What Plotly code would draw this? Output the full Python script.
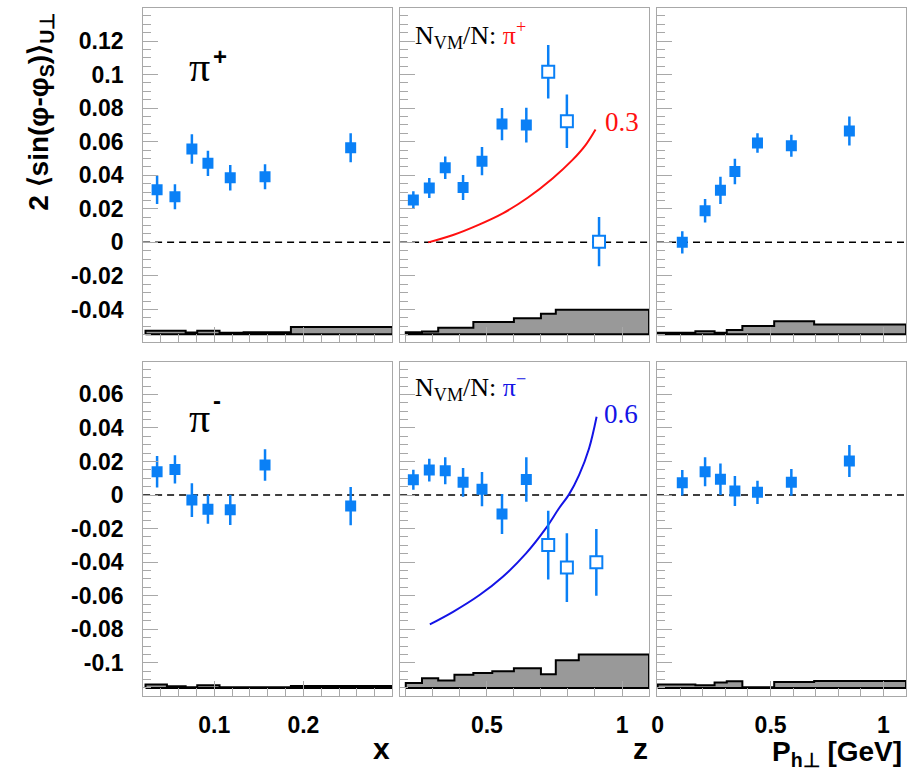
import plotly.graph_objects as go

# ---------------- data ----------------
# kinematic bin centres
x_bin = [0.036, 0.056, 0.075, 0.093, 0.118, 0.157, 0.253]
z_bin_pip = [0.228, 0.287, 0.346, 0.412, 0.482, 0.556, 0.646, 0.727, 0.796, 0.915]
z_bin_pim = [0.228, 0.287, 0.346, 0.412, 0.482, 0.556, 0.646, 0.727, 0.796, 0.905]
pt_bin = [0.109, 0.210, 0.278, 0.342, 0.442, 0.592, 0.849]
n_closed_z = 7  # the last z bins are drawn with open markers

# pi+ amplitudes and statistical errors
pip_x = [0.0314, 0.0272, 0.0556, 0.0471, 0.0385, 0.0391, 0.0564]
pip_x_err = [0.0085, 0.0075, 0.0088, 0.0075, 0.0076, 0.0074, 0.0087]
pip_z = [0.0252, 0.0324, 0.0445, 0.0327, 0.0484, 0.0705, 0.0699, 0.1017, 0.0722, 0.0004]
pip_z_err = [0.0052, 0.0060, 0.0067, 0.0075, 0.0084, 0.0096, 0.0104, 0.0159, 0.0159, 0.0147]
pip_pt = [0.0000, 0.0189, 0.0310, 0.0423, 0.0592, 0.0576, 0.0664]
pip_pt_err = [0.0066, 0.0070, 0.0081, 0.0076, 0.0058, 0.0066, 0.0086]

# pi- amplitudes and statistical errors
pim_x = [0.0139, 0.0153, -0.0030, -0.0084, -0.0088, 0.0179, -0.0066]
pim_x_err = [0.0094, 0.0084, 0.0101, 0.0087, 0.0090, 0.0094, 0.0114]
pim_z = [0.0091, 0.0149, 0.0145, 0.0076, 0.0035, -0.0113, 0.0093, -0.0298, -0.0432, -0.0401]
pim_z_err = [0.0060, 0.0068, 0.0080, 0.0086, 0.0102, 0.0119, 0.0133, 0.0205, 0.0205, 0.0199]
pim_pt = [0.0074, 0.0139, 0.0094, 0.0024, 0.0016, 0.0076, 0.0203]
pim_pt_err = [0.0076, 0.0086, 0.0094, 0.0090, 0.0070, 0.0080, 0.0096]

# systematic uncertainty bands (bin edges and band heights)
x_edges = [0.023, 0.047, 0.068, 0.081, 0.106, 0.133, 0.186, 0.30]
z_edges = [0.20, 0.26, 0.32, 0.38, 0.45, 0.52, 0.60, 0.70, 0.755, 0.84, 1.10]
pt_edges = [0.0, 0.167, 0.252, 0.306, 0.375, 0.516, 0.693, 1.10]
sys_pip_x = [0.0020, 0.0020, 0.0010, 0.0020, 0.0008, 0.0012, 0.0042]
sys_pim_x = [0.0020, 0.0010, 0.0004, 0.0016, 0.0004, 0.0004, 0.0012]
sys_pip_z = [0.0012, 0.0016, 0.0038, 0.0038, 0.0072, 0.0072, 0.0095, 0.0121, 0.0145, 0.0145]
sys_pim_z = [0.0030, 0.0058, 0.0044, 0.0078, 0.0089, 0.0099, 0.0117, 0.0081, 0.0165, 0.0199]
sys_pip_pt = [0.0008, 0.0018, 0.0008, 0.0024, 0.0048, 0.0077, 0.0058]
sys_pim_pt = [0.0020, 0.0016, 0.0032, 0.0040, 0.0004, 0.0036, 0.0042]
sys_base_pip = -0.0547
sys_base_pim = -0.115

# vector-meson fraction N_VM/N, drawn on the asymmetry scale
vm_pip_z = [0.283, 0.375, 0.467, 0.559, 0.651, 0.743, 0.816, 0.865, 0.902]
vm_pip_y = [0.0, 0.0044, 0.0103, 0.0173, 0.0266, 0.0381, 0.0490, 0.0580, 0.0673]
vm_pim_z = [0.289, 0.375, 0.473, 0.559, 0.645, 0.718, 0.767, 0.804, 0.841, 0.878, 0.906]
vm_pim_y = [-0.0771, -0.0696, -0.0596, -0.0487, -0.0348, -0.0199, -0.0079, 0.0004, 0.0119, 0.0278, 0.0467]
vm_pip_end = "0.3"
vm_pim_end = "0.6"

# axis ticks
y_top_ticks = [-0.04, -0.02, 0, 0.02, 0.04, 0.06, 0.08, 0.1, 0.12]
y_top_text = ["-0.04", "-0.02", "0", "0.02", "0.04", "0.06", "0.08", "0.1", "0.12"]
y_bot_ticks = [-0.1, -0.08, -0.06, -0.04, -0.02, 0, 0.02, 0.04, 0.06]
y_bot_text = ["-0.1", "-0.08", "-0.06", "-0.04", "-0.02", "0", "0.02", "0.04", "0.06"]
x_ticks = [0.1, 0.2]
x_text = ["0.1", "0.2"]
z_ticks = [0.5, 1.0]
z_text = ["0.5", "1"]
pt_ticks = [0.0, 0.5, 1.0]
pt_text = ["0", "0.5", "1"]

# ---------------- style ----------------
W, H = 914, 772
BLUE = "#0a80f6"
FRAME = "#a8a8a8"
SANS = "Liberation Sans"
SERIF = "Liberation Serif"


def px(x):
    return x / W


def py(y):
    return 1 - y / H


col_dom = [(px(138), px(388.7)), (px(396.7), px(647.3)), (px(655.3), px(906))]
row_dom = [(py(341.7), py(8.3)), (py(696), py(361.7))]
x_ranges = [[0.0203, 0.2995], [0.179, 1.1], [-0.003, 1.1]]
y_ranges = [[-0.0592, 0.1395], [-0.1198, 0.0795]]

fig = go.Figure()


def ax_name(k, letter):
    return letter if k == 1 else f"{letter}{k}"


def add_points(k, xs, ys, errs, n_closed=None):
    n = len(xs) if n_closed is None else n_closed
    err_style = dict(type="data", visible=True, color=BLUE, thickness=2.5, width=0)
    fig.add_trace(go.Scatter(
        x=xs[:n], y=ys[:n], mode="markers",
        error_y=dict(array=errs[:n], **err_style),
        marker=dict(symbol="square", size=11, color=BLUE, line=dict(width=0)),
        xaxis=ax_name(k, "x"), yaxis=ax_name(k, "y"), showlegend=False))
    if n < len(xs):
        fig.add_trace(go.Scatter(
            x=xs[n:], y=ys[n:], mode="markers",
            error_y=dict(array=errs[n:], **err_style),
            marker=dict(symbol="square", size=12, color="white",
                        line=dict(width=2, color=BLUE)),
            xaxis=ax_name(k, "x"), yaxis=ax_name(k, "y"), showlegend=False))


def add_band(k, edges, heights, base):
    xs, ys = [edges[0]], [base]
    for i, h in enumerate(heights):
        xs.append(edges[i])
        ys.append(base + h)
    xs += [edges[-1], edges[-1], edges[0]]
    ys += [base + heights[-1], base, base]
    fig.add_trace(go.Scatter(
        x=xs, y=ys, mode="lines", line=dict(color="black", width=2, shape="hv"),
        fill="toself", fillcolor="#999999",
        xaxis=ax_name(k, "x"), yaxis=ax_name(k, "y"), showlegend=False))


# bands first so points sit on top
add_band(1, x_edges, sys_pip_x, sys_base_pip)
add_band(2, z_edges, sys_pip_z, sys_base_pip)
add_band(3, pt_edges, sys_pip_pt, sys_base_pip)
add_band(4, x_edges, sys_pim_x, sys_base_pim)
add_band(5, z_edges, sys_pim_z, sys_base_pim)
add_band(6, pt_edges, sys_pim_pt, sys_base_pim)

fig.add_trace(go.Scatter(x=vm_pip_z, y=vm_pip_y, mode="lines",
                         line=dict(color="#ff1010", width=2, shape="spline", smoothing=1),
                         xaxis="x2", yaxis="y2", showlegend=False))
fig.add_trace(go.Scatter(x=vm_pim_z, y=vm_pim_y, mode="lines",
                         line=dict(color="#1414e6", width=2, shape="spline", smoothing=1),
                         xaxis="x5", yaxis="y5", showlegend=False))

add_points(1, x_bin, pip_x, pip_x_err)
add_points(2, z_bin_pip, pip_z, pip_z_err, n_closed_z)
add_points(3, pt_bin, pip_pt, pip_pt_err)
add_points(4, x_bin, pim_x, pim_x_err)
add_points(5, z_bin_pim, pim_z, pim_z_err, n_closed_z)
add_points(6, pt_bin, pim_pt, pim_pt_err)

tick_font = dict(family=SANS, size=23, color="black", weight="bold")
x_tick_sets = [(x_ticks, x_text, 0.02), (z_ticks, z_text, 0.1), (pt_ticks, pt_text, 0.1)]
y_tick_sets = [(y_top_ticks, y_top_text), (y_bot_ticks, y_bot_text)]

layout_axes = {}
shapes = []
for r in range(2):
    for c in range(3):
        k = r * 3 + c + 1
        tv, tt, mdt = x_tick_sets[c]
        layout_axes["xaxis" if k == 1 else f"xaxis{k}"] = dict(
            domain=list(col_dom[c]), anchor=ax_name(k, "y"), range=x_ranges[c],
            tickmode="array", tickvals=tv, ticktext=tt,
            showticklabels=(r == 1), tickfont=tick_font, ticklabelstandoff=8,
            ticks="inside", ticklen=15, tickwidth=1, tickcolor=FRAME,
            minor=dict(dtick=mdt, tick0=0, ticks="inside", ticklen=8,
                       tickwidth=1, tickcolor=FRAME),
            showline=True, mirror=True, linecolor=FRAME, linewidth=1,
            showgrid=False, zeroline=False, fixedrange=True)
        ytv, ytt = y_tick_sets[r]
        layout_axes["yaxis" if k == 1 else f"yaxis{k}"] = dict(
            domain=list(row_dom[r]), anchor=ax_name(k, "x"), range=y_ranges[r],
            tickmode="array", tickvals=ytv, ticktext=ytt,
            showticklabels=(c == 0), tickfont=tick_font, ticklabelstandoff=14,
            ticks="inside", ticklen=15, tickwidth=1, tickcolor=FRAME,
            minor=dict(dtick=0.005, tick0=0, ticks="inside", ticklen=8,
                       tickwidth=1, tickcolor=FRAME),
            showline=True, mirror=True, linecolor=FRAME, linewidth=1,
            showgrid=False, zeroline=False, fixedrange=True)
        shapes.append(dict(type="line", xref=f"{ax_name(k, 'x')} domain",
                           yref=ax_name(k, "y"), x0=0, x1=1, y0=0, y1=0,
                           line=dict(color="black", width=1.5, dash="7px,5px"),
                           layer="below"))

annotations = [
    # y-axis title
    dict(text="<b>2 ⟨sin(φ-φ<sub>S</sub>)⟩<sub>U⊥</sub></b>", x=px(35), y=py(112),
         textangle=-90, font=dict(family=SANS, size=28, color="black")),
    # particle labels
    dict(text="π", x=px(195), y=py(67), font=dict(family=SERIF, size=42, color="black")),
    dict(text="<b>+</b>", x=px(215), y=py(56), font=dict(family=SANS, size=24, color="black")),
    dict(text="π", x=px(195), y=py(418), font=dict(family=SERIF, size=42, color="black")),
    dict(text="<b>-</b>", x=px(212), y=py(401), font=dict(family=SANS, size=24, color="black")),
    # vector-meson fraction labels
    dict(text="N<sub>VM</sub>/N: <span style='color:#ff1010'>π<sup>+</sup></span>",
         x=px(410), y=py(35), xanchor="left",
         font=dict(family=SERIF, size=26, color="black")),
    dict(text="N<sub>VM</sub>/N: <span style='color:#1414e6'>π<sup>−</sup></span>",
         x=px(410), y=py(387), xanchor="left",
         font=dict(family=SERIF, size=26, color="black")),
    dict(text=vm_pip_end, x=px(620), y=py(122),
         font=dict(family=SERIF, size=27, color="#ff1010")),
    dict(text=vm_pim_end, x=px(619), y=py(414),
         font=dict(family=SERIF, size=27, color="#1414e6")),
    # x-axis titles
    dict(text="<b>x</b>", x=px(389), y=py(748), xanchor="right",
         font=dict(family=SANS, size=30, color="black")),
    dict(text="<b>z</b>", x=px(648), y=py(748), xanchor="right",
         font=dict(family=SANS, size=30, color="black")),
    dict(text="<b>P<sub>h⊥</sub> [GeV]</b>", x=px(904), y=py(753), xanchor="right",
         font=dict(family=SANS, size=28, color="black")),
]
for a in annotations:
    a.update(xref="paper", yref="paper", showarrow=False)
    a.setdefault("xanchor", "center")
    a.setdefault("yanchor", "middle")

fig.update_layout(
    width=W, height=H, margin=dict(l=0, r=0, t=0, b=0),
    paper_bgcolor="white", plot_bgcolor="white",
    showlegend=False, shapes=shapes, annotations=annotations,
    **layout_axes)

fig.write_html("out.html")
